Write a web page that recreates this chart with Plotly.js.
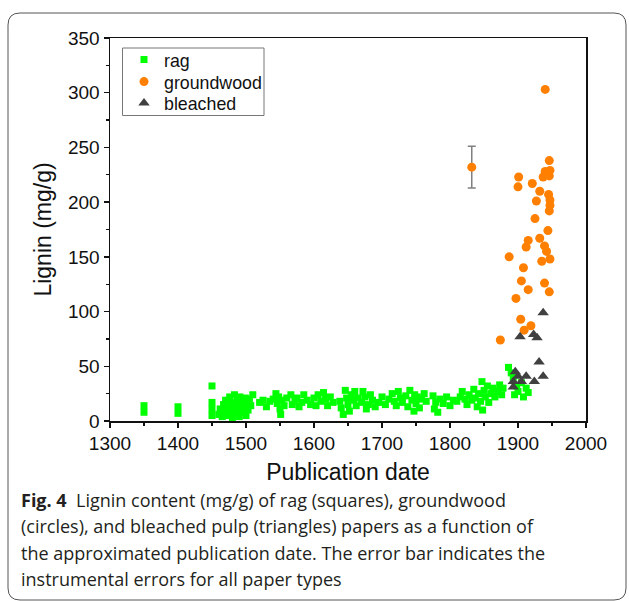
<!DOCTYPE html>
<html>
<head>
<meta charset="utf-8">
<script src="https://cdn.plot.ly/plotly-3.0.1.min.js"></script>
<style>
  html, body { margin: 0; padding: 0; background: #fff; }
  #chart { width: 629px; height: 601px; }
</style>
</head>
<body>
<div id="chart"></div>
<script>
// Rag papers: publication year and lignin content (mg/g)
const ragYear = [
  1350, 1350, 1400, 1400, 1450, 1450, 1450, 1450,
  1460, 1462, 1465, 1467, 1469, 1470, 1472, 1474, 1476, 1477, 1479, 1480, 1481, 1483, 1484, 1486,
  1487, 1489, 1490, 1491, 1493, 1494, 1496, 1497, 1499, 1500, 1501, 1503, 1505, 1507, 1510,
  1520, 1525, 1530, 1535, 1540, 1544, 1546, 1548, 1550, 1551, 1553, 1556, 1560,
  1566, 1568, 1572, 1575, 1578, 1582, 1585, 1590, 1595,
  1600, 1603, 1606, 1610, 1614, 1617, 1620, 1624, 1628,
  1638, 1640, 1643, 1646, 1648, 1650, 1652, 1655, 1658, 1660, 1662, 1665,
  1670, 1672, 1675, 1677, 1680, 1683, 1686, 1690, 1695, 1700, 1705, 1710,
  1715, 1718, 1721, 1724, 1727, 1730, 1735, 1738, 1741, 1744, 1747, 1748, 1750, 1752, 1755, 1758, 1762, 1765,
  1775, 1777, 1779, 1782, 1785, 1790, 1795, 1800, 1805,
  1810, 1815, 1818, 1822, 1825, 1828, 1832, 1835, 1837, 1840, 1842, 1845, 1847, 1848, 1850, 1852,
  1855, 1857, 1860, 1863, 1866, 1870, 1873, 1876, 1878,
  1886, 1890, 1893, 1895, 1898, 1900, 1905, 1908, 1912, 1915
];
const ragLignin = [
  14, 8, 13, 7, 32, 17, 11, 5,
  6, 11, 4, 15, 9, 19, 5, 13, 22, 8, 17, 3, 11, 24, 14, 7,
  19, 10, 4, 22, 15, 8, 18, 12, 21, 5, 16, 10, 20, 14, 24,
  17, 19, 13, 18, 20, 25, 16, 22, 11, 6, 19, 14, 21,
  24, 15, 18, 21, 13, 17, 24, 19, 15,
  21, 14, 24, 18, 26, 20, 14, 22, 17,
  18, 12, 6, 28, 21, 15, 9, 24, 19, 27, 14, 21,
  17, 27, 22, 11, 15, 24, 19, 13, 17, 22, 15, 20,
  25, 18, 14, 27, 21, 17, 23, 13, 28, 19, 9, 24, 16, 22, 12, 20, 25, 18,
  23, 11, 17, 8, 20, 16, 22, 14, 19,
  18, 22, 27, 20, 15, 24, 19, 29, 21, 13, 25, 18, 36, 10, 28, 22,
  32, 17, 25, 30, 22, 27, 33, 24, 30,
  49, 44, 40, 24, 32, 27, 35, 22, 30, 26
];

// Groundwood papers
const gwYear = [
  1832, 1940, 1946, 1940, 1947, 1937, 1946, 1901, 1900, 1921, 1932, 1945, 1947, 1927,
  1947, 1946, 1925, 1944, 1915, 1932, 1912, 1939, 1942, 1887, 1947, 1935, 1908,
  1905, 1939, 1915, 1946, 1897, 1904, 1919, 1909, 1874
];
const gwLignin = [
  232, 303, 238, 228, 229, 223, 224, 223, 214, 217, 210, 207, 202, 201,
  197, 192, 185, 174, 165, 167, 159, 160, 155, 150, 148, 146, 140,
  128, 126, 120, 118, 112, 93, 87, 83, 74
];
// Instrumental error shown on a single groundwood sample
const gwError = gwYear.map((y, i) => (i === 0 ? 19 : 0));

// Bleached pulp papers
const blYear = [1937, 1903, 1923, 1928, 1931, 1896, 1900, 1912, 1937, 1924, 1893, 1905, 1893];
const blLignin = [99, 77, 79, 76, 54, 45, 41, 41, 41, 36, 36, 36, 31];

const xTicks = [1300, 1400, 1500, 1600, 1700, 1800, 1900, 2000];
const yTicks = [0, 50, 100, 150, 200, 250, 300, 350];

// Plot-area geometry in pixels, used to place the caption, legend and frame
const L = 110, R = 586, T = 38, B = 421;
const fx = px => (px - L) / (R - L);
const fy = py => (B - py) / (B - T);

const axisFont = { family: 'Liberation Sans, Arial, sans-serif', size: 19, color: '#111' };
const titleFont = { family: 'Liberation Sans, Arial, sans-serif', size: 23, color: '#111' };
const legendFont = { family: 'Liberation Sans, Arial, sans-serif', size: 17.8, color: '#111' };
const capFont = { family: 'Open Sans, sans-serif', size: 18, color: '#231f20' };

const traces = [
  {
    type: 'scatter', mode: 'markers', name: 'rag', legend: 'legend',
    x: ragYear, y: ragLignin,
    marker: { symbol: 'square', size: 7, color: '#00ff00', line: { width: 0 } }
  },
  {
    type: 'scatter', mode: 'markers', name: 'groundwood', legend: 'legend2',
    x: gwYear, y: gwLignin,
    marker: { symbol: 'circle', size: 9, color: '#ff8000', line: { width: 0 } },
    error_y: { type: 'data', array: gwError, visible: true, color: '#808080', thickness: 1.5, width: 4 }
  },
  {
    type: 'scatter', mode: 'markers', name: 'bleached', legend: 'legend3',
    x: blYear, y: blLignin,
    marker: { symbol: 'triangle-up', size: 10, color: '#404040', line: { width: 0 } }
  }
];

const captionLines = [
  '<b>Fig. 4</b>  Lignin content (mg/g) of rag (squares), groundwood',
  '(circles), and bleached pulp (triangles) papers as a function of',
  'the approximated publication date. The error bar indicates the',
  'instrumental errors for all paper types'
];
const captionY = [500, 526, 553, 579];

const annotations = captionLines.map((t, i) => ({
  xref: 'paper', yref: 'paper',
  x: fx(19), y: fy(captionY[i]),
  xanchor: 'left', yanchor: 'middle',
  text: t, showarrow: false, font: capFont
}));

// Rounded frame around figure and caption
const x0 = fx(8), x1 = fx(626), y0 = fy(13), y1 = fy(600);
const rx = 12 / (R - L), ry = 12 / (B - T);
const framePath =
  `M ${x0} ${y0 - ry} Q ${x0} ${y0} ${x0 + rx} ${y0} ` +
  `L ${x1 - rx} ${y0} Q ${x1} ${y0} ${x1} ${y0 - ry} ` +
  `L ${x1} ${y1 + ry} Q ${x1} ${y1} ${x1 - rx} ${y1} ` +
  `L ${x0 + rx} ${y1} Q ${x0} ${y1} ${x0} ${y1 + ry} Z`;

// One legend per series so the row spacing can be set freely
const legendRow = py => ({
  x: fx(124), y: fy(py), xanchor: 'left', yanchor: 'middle',
  bgcolor: 'rgba(0,0,0,0)', borderwidth: 0, font: legendFont
});

const layout = {
  width: 629, height: 601,
  margin: { l: L, r: 629 - R, t: T, b: 601 - B },
  paper_bgcolor: '#fff', plot_bgcolor: '#fff',
  showlegend: true,
  legend: legendRow(60),
  legend2: legendRow(82),
  legend3: legendRow(103.5),
  xaxis: {
    range: [1300, 2000], tickvals: xTicks, ticktext: xTicks.map(String),
    showgrid: false, zeroline: false,
    showline: true, linecolor: '#111', linewidth: 1.5, mirror: true,
    ticks: 'outside', ticklen: 5, tickwidth: 1.5, tickcolor: '#111',
    minor: { dtick: 50, ticks: 'outside', ticklen: 3, tickwidth: 1.2, tickcolor: '#111', showgrid: false },
    tickfont: axisFont,
    title: { text: 'Publication date', font: titleFont, standoff: 10 }
  },
  yaxis: {
    range: [0, 350], tickvals: yTicks, ticktext: yTicks.map(String),
    showgrid: false, zeroline: false,
    showline: true, linecolor: '#111', linewidth: 1.5, mirror: true,
    ticks: 'outside', ticklen: 5, tickwidth: 1.5, tickcolor: '#111',
    minor: { dtick: 25, ticks: 'outside', ticklen: 3, tickwidth: 1.2, tickcolor: '#111', showgrid: false },
    tickfont: axisFont,
    title: { text: 'Lignin (mg/g)', font: titleFont, standoff: 10 }
  },
  annotations: annotations,
  shapes: [
    {
      type: 'path', xref: 'paper', yref: 'paper', path: framePath,
      line: { color: '#555', width: 1 }, fillcolor: 'rgba(0,0,0,0)', layer: 'below'
    },
    {
      // legend box
      type: 'rect', xref: 'paper', yref: 'paper',
      x0: fx(122.5), x1: fx(264), y0: fy(48), y1: fy(115.5),
      line: { color: '#777', width: 1 }, fillcolor: '#fff', layer: 'above'
    }
  ]
};

Plotly.newPlot('chart', traces, layout, { displayModeBar: false, staticPlot: true });
</script>
</body>
</html>
